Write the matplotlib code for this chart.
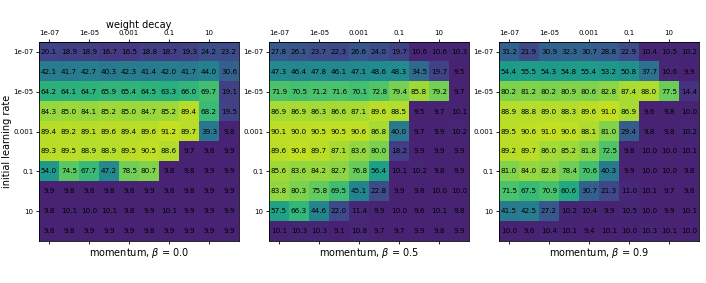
import numpy as np
import matplotlib
matplotlib.use("Agg")
import matplotlib.pyplot as plt

tick_labels = ["1e-07", "1e-05", "0.001", "0.1", "10"]
momenta = ["0.0", "0.5", "0.9"]

acc_b00 = [
    [20.1, 18.9, 18.9, 16.7, 16.5, 18.8, 18.7, 19.3, 24.2, 23.2],
    [42.1, 41.7, 42.7, 40.3, 42.3, 41.4, 42.0, 41.7, 44.0, 30.6],
    [64.2, 64.1, 64.7, 65.9, 65.4, 64.5, 63.3, 66.0, 69.7, 19.1],
    [84.3, 85.0, 84.1, 85.2, 85.0, 84.7, 85.2, 89.4, 68.2, 19.5],
    [89.4, 89.2, 89.1, 89.6, 89.4, 89.6, 91.2, 89.7, 39.3, 9.8],
    [89.3, 89.5, 88.9, 88.9, 89.5, 90.5, 88.6, 9.7, 9.8, 9.9],
    [54.0, 74.5, 67.7, 47.2, 78.5, 80.7, 9.8, 9.8, 9.9, 9.9],
    [9.9, 9.8, 9.8, 9.8, 9.8, 9.9, 9.8, 9.8, 9.9, 9.9],
    [9.8, 10.1, 10.0, 10.1, 9.8, 9.9, 10.1, 9.9, 9.9, 9.9],
    [9.8, 9.8, 9.9, 9.9, 9.9, 9.8, 9.9, 9.9, 9.9, 9.9],
]

acc_b05 = [
    [27.8, 26.1, 23.7, 22.3, 26.6, 24.0, 19.7, 10.6, 10.6, 10.3],
    [47.3, 46.4, 47.8, 46.1, 47.1, 48.6, 48.3, 34.5, 19.7, 9.5],
    [71.9, 70.5, 71.2, 71.6, 70.1, 72.8, 79.4, 85.8, 79.2, 9.7],
    [86.9, 86.9, 86.3, 86.6, 87.1, 89.6, 88.5, 9.5, 9.7, 10.1],
    [90.1, 90.0, 90.5, 90.5, 90.6, 86.8, 40.0, 9.7, 9.9, 10.2],
    [89.6, 90.8, 89.7, 87.1, 83.6, 80.0, 18.2, 9.9, 9.9, 9.9],
    [85.6, 83.6, 84.2, 82.7, 76.8, 56.4, 10.1, 10.2, 9.8, 9.9],
    [83.8, 80.3, 75.8, 69.5, 45.1, 22.8, 9.9, 9.8, 10.0, 10.0],
    [57.5, 66.3, 44.6, 22.0, 11.4, 9.9, 10.0, 9.6, 10.1, 9.8],
    [10.1, 10.3, 10.3, 9.1, 10.8, 9.7, 9.7, 9.9, 9.8, 9.9],
]

acc_b09 = [
    [31.2, 21.9, 30.9, 32.3, 30.7, 28.8, 22.9, 10.4, 10.5, 10.2],
    [54.4, 55.5, 54.3, 54.8, 55.4, 53.2, 50.8, 37.7, 10.6, 9.9],
    [80.2, 81.2, 80.2, 80.9, 80.6, 82.8, 87.4, 88.0, 77.5, 14.4],
    [88.9, 88.8, 89.0, 88.3, 89.6, 91.0, 86.9, 9.6, 9.8, 10.0],
    [89.5, 90.6, 91.0, 90.6, 88.1, 81.0, 29.4, 9.8, 9.8, 10.2],
    [89.2, 89.7, 86.0, 85.2, 81.8, 72.5, 9.8, 10.0, 10.0, 10.1],
    [81.0, 84.0, 82.8, 78.4, 70.6, 40.3, 9.9, 10.0, 10.0, 9.8],
    [71.5, 67.5, 70.9, 60.6, 30.7, 21.3, 11.0, 10.1, 9.7, 9.8],
    [41.5, 42.5, 27.2, 10.2, 10.4, 9.9, 10.5, 10.0, 9.9, 10.1],
    [10.0, 9.6, 10.4, 10.1, 9.4, 10.1, 10.0, 10.3, 10.1, 10.0],
]

grids = [acc_b00, acc_b05, acc_b09]

fig = plt.figure(figsize=(7.06, 2.83), dpi=100)
lefts = [39, 269, 499]

for i, (grid, beta) in enumerate(zip(grids, momenta)):
    data = np.array(grid)
    ax = fig.add_axes([lefts[i] / 706, 42 / 283, 200 / 706, 199 / 283])
    ax.imshow(data, cmap="viridis", vmin=0, vmax=100, aspect="auto")
    for r in range(data.shape[0]):
        for c in range(data.shape[1]):
            ax.text(c, r, f"{data[r, c]:.1f}", ha="center", va="center",
                    fontsize=5.2, color="black")
    ax.set_xticks(range(0, 10, 2))
    ax.set_yticks(range(0, 10, 2))
    ax.set_xticklabels(tick_labels, fontsize=5)
    ax.set_yticklabels(tick_labels, fontsize=5)
    ax.tick_params(axis="x", top=True, labeltop=True, bottom=True,
                   labelbottom=False, length=2.5, pad=1.5, width=0.6)
    ax.tick_params(axis="y", length=2.5, pad=1.5, width=0.6)
    for s in ax.spines.values():
        s.set_linewidth(0.6)
    ax.set_xlabel(f"momentum, $\\beta$ = {beta}", fontsize=7, labelpad=1)
    if i == 0:
        ax.set_ylabel("initial learning rate", fontsize=7, labelpad=1)
        ax2 = ax.secondary_xaxis("top")
        ax2.set_xticks([])
        ax2.set_xlabel("weight decay", fontsize=7, labelpad=10)
        for s in ax2.spines.values():
            s.set_linewidth(0.6)

fig.savefig("out.png", dpi=100)
